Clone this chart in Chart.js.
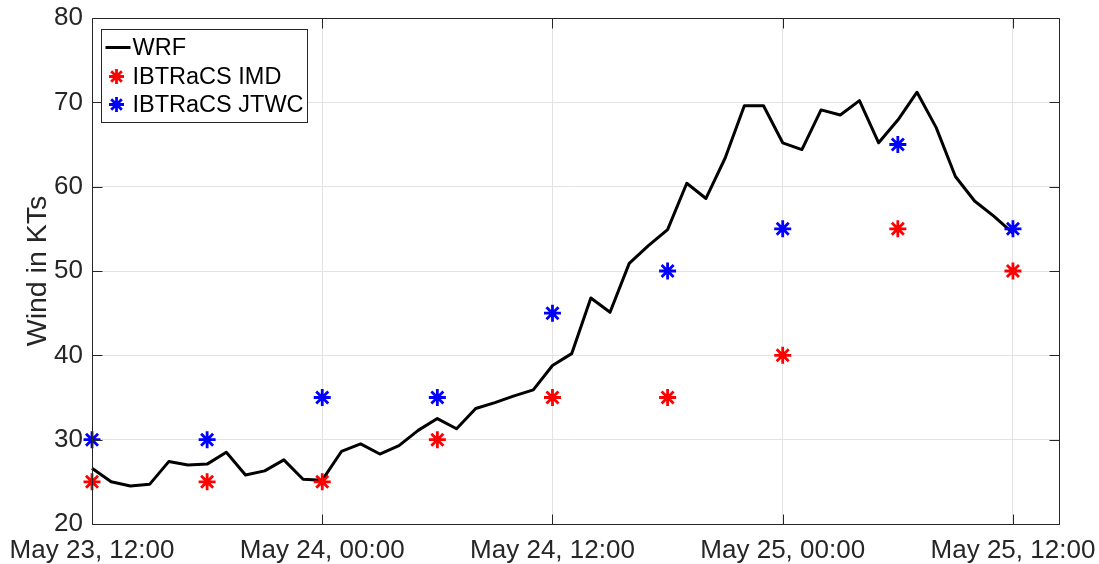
<!DOCTYPE html>
<html><head><meta charset="utf-8">
<script src="https://cdn.jsdelivr.net/npm/chart.js@4.4.1/dist/chart.umd.min.js"></script>
<style>html,body{margin:0;padding:0;background:#fff;}#wrap{width:1099px;height:564px;position:relative;}</style>
</head><body><div id="wrap"><canvas id="c" width="1099" height="564"></canvas></div>
<script>
// hours after May 23, 12:00
const wrfHours = [0,1,2,3,4,5,6,7,8,9,10,11,12,13,14,15,16,17,18,19,20,21,22,23,24,25,26,27,28,29,30,31,32,33,34,35,36,37,38,39,40,41,42,43,44,45,46,47,48];
const wrfWind = [26.6,25.0,24.5,24.7,27.4,27.0,27.1,28.5,25.8,26.3,27.6,25.3,25.2,28.6,29.5,28.3,29.3,31.1,32.5,31.3,33.7,34.4,35.2,35.9,38.8,40.2,46.8,45.1,50.9,53.0,54.9,60.4,58.6,63.4,69.6,69.6,65.2,64.4,69.1,68.5,70.2,65.2,67.9,71.2,67.0,61.2,58.3,56.5,54.5];
const obsHours = [0,6,12,18,24,30,36,42,48];
const imdWind = [25,25,25,30,35,35,40,55,50];
const jtwcWind = [30,30,35,35,45,50,55,65,55];
const xTickHours = [0,12,24,36,48];
const xTickLabels = ['May 23, 12:00','May 24, 00:00','May 24, 12:00','May 25, 00:00','May 25, 12:00'];
const yTickValues = [20,30,40,50,60,70,80];
const seriesNames = ['WRF','IBTRaCS IMD','IBTRaCS JTWC'];
const yTitle = 'Wind in KTs';

const FONT = '"Liberation Sans", Arial, sans-serif';
const AX = '#262626';
const pts = (xs, ys) => xs.map((x, i) => ({x: x, y: ys[i]}));

function star(ctx, cx, cy, r) {
  ctx.beginPath();
  for (let k = 0; k < 4; k++) {
    const a = k * Math.PI / 4;
    ctx.moveTo(cx - Math.cos(a) * r, cy - Math.sin(a) * r);
    ctx.lineTo(cx + Math.cos(a) * r, cy + Math.sin(a) * r);
  }
  ctx.stroke();
}

const framePlugin = {
  id: 'frame',
  afterDraw(chart) {
    const {ctx, chartArea: {left, right, top, bottom}, scales: {x, y}} = chart;
    ctx.save();
    ctx.strokeStyle = AX; ctx.lineWidth = 1;
    const L = Math.round(left) + 0.5, R = Math.round(right) + 0.5, T = Math.round(top) + 0.5, B = Math.round(bottom) + 0.5;
    ctx.beginPath(); ctx.rect(L, T, R - L, B - T); ctx.stroke();
    const tl = 10;
    ctx.beginPath();
    x.ticks.forEach(t => { const p = Math.round(x.getPixelForValue(t.value)) + 0.5; ctx.moveTo(p, B); ctx.lineTo(p, B - tl); ctx.moveTo(p, T); ctx.lineTo(p, T + tl); });
    y.ticks.forEach(t => { const p = Math.round(y.getPixelForValue(t.value)) + 0.5; ctx.moveTo(L, p); ctx.lineTo(L + tl, p); ctx.moveTo(R, p); ctx.lineTo(R - tl, p); });
    ctx.stroke();
    // legend
    const lx = L + 9, ly = T + 11, lw = 206, lh = 93;
    ctx.fillStyle = '#fff'; ctx.fillRect(lx, ly, lw, lh);
    ctx.strokeStyle = AX; ctx.lineWidth = 1; ctx.strokeRect(lx, ly, lw, lh);
    ctx.font = '23.5px ' + FONT; ctx.textBaseline = 'middle'; ctx.textAlign = 'left';
    const rows = [ly + 18, ly + 47, ly + 75];
    const tx = lx + 31;
    chart.data.datasets.forEach((ds, i) => {
      const cy = rows[i];
      ctx.strokeStyle = ds.borderColor;
      if (i === 0) {
        ctx.lineWidth = 3;
        ctx.beginPath(); ctx.moveTo(lx + 4, cy); ctx.lineTo(lx + 29, cy); ctx.stroke();
      } else {
        ctx.lineWidth = 2.8;
        star(ctx, lx + 15, cy, 7.5);
      }
      ctx.fillStyle = '#000';
      ctx.fillText(ds.label, tx, cy + 1);
    });
    ctx.restore();
  }
};

new Chart(document.getElementById('c'), {
  type: 'line',
  data: {
    datasets: [
      {label: seriesNames[0], data: pts(wrfHours, wrfWind), borderColor: '#000000', backgroundColor: '#000000', borderWidth: 3, pointRadius: 0, tension: 0, order: 3, borderJoinStyle: 'round', clip: false},
      {label: seriesNames[1], data: pts(obsHours, imdWind), showLine: false, pointStyle: 'star', pointRadius: 8.5, pointBorderWidth: 2.8, borderColor: '#ff0000', backgroundColor: '#ff0000', order: 2, clip: false},
      {label: seriesNames[2], data: pts(obsHours, jtwcWind), showLine: false, pointStyle: 'star', pointRadius: 8.5, pointBorderWidth: 2.8, borderColor: '#0000ff', backgroundColor: '#0000ff', order: 1, clip: false}
    ]
  },
  options: {
    responsive: false,
    animation: false,
    layout: {padding: {left: 0, right: 40, top: 18, bottom: 0}},
    plugins: {legend: {display: false}, tooltip: {enabled: false}},
    scales: {
      x: {
        type: 'linear', min: 0, max: 50.4,
        afterBuildTicks: s => { s.ticks = xTickHours.map(v => ({value: v})); },
        afterFit: s => { s.height = 40; s.paddingLeft = 0; s.paddingRight = 0; },
        ticks: {color: AX, font: {family: FONT, size: 26}, padding: 11, maxRotation: 0, autoSkip: false,
          callback: (v) => xTickLabels[xTickHours.indexOf(v)]},
        grid: {color: '#e3e3e3', lineWidth: 1, drawTicks: false},
        border: {display: false}
      },
      y: {
        min: 20, max: 80,
        afterBuildTicks: s => { s.ticks = yTickValues.map(v => ({value: v})); },
        afterFit: s => { s.width = 92; s.paddingTop = 0; s.paddingBottom = 0; },
        ticks: {color: AX, font: {family: FONT, size: 26}, padding: 9},
        grid: {color: '#e3e3e3', lineWidth: 1, drawTicks: false},
        border: {display: false},
        title: {display: true, text: yTitle, color: AX, font: {family: FONT, size: 28.5}, padding: {top: 21, bottom: 0}}
      }
    }
  },
  plugins: [framePlugin]
});
</script></body></html>
